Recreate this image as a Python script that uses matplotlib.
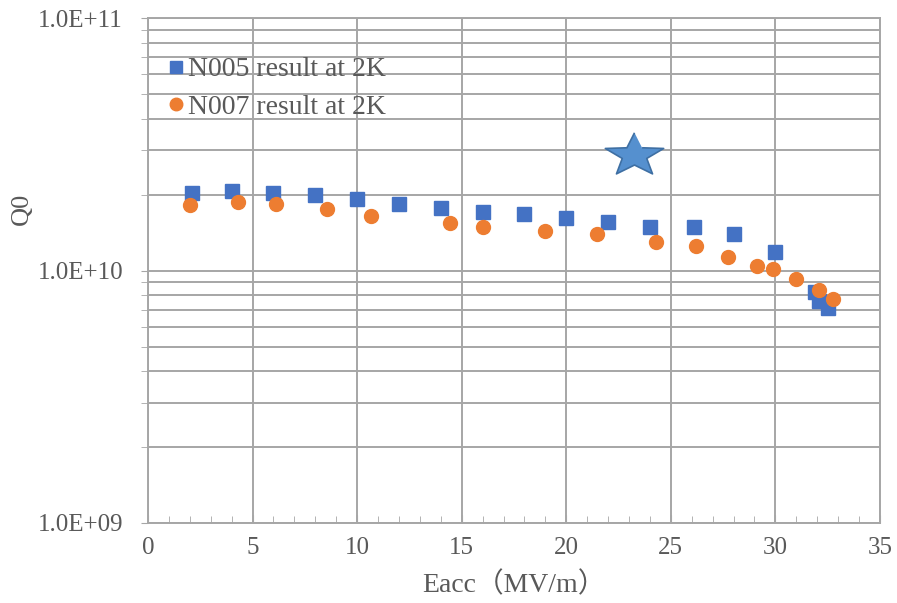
import matplotlib.pyplot as plt
import numpy as np
from matplotlib.ticker import LogLocator, MultipleLocator, FixedLocator, NullFormatter

# N005 result at 2K (blue squares)
n005_eacc = [2.1, 4.0, 6.0, 8.0, 10.0, 12.0, 14.0, 16.0, 18.0, 20.0, 22.0, 24.0, 26.1, 28.0, 30.0, 31.9, 32.1, 32.5]
n005_q0 = [2.02e10, 2.07e10, 2.03e10, 1.99e10, 1.92e10, 1.84e10, 1.77e10, 1.71e10, 1.67e10, 1.61e10,
           1.55e10, 1.49e10, 1.49e10, 1.40e10, 1.18e10, 8.2e9, 7.6e9, 7.1e9]

# N007 result at 2K (orange circles)
n007_eacc = [2.0, 4.3, 6.1, 8.55, 10.65, 14.45, 16.0, 19.0, 21.45, 24.3, 26.2, 27.75, 29.1, 29.9, 31.0, 32.1, 32.75]
n007_q0 = [1.81e10, 1.86e10, 1.83e10, 1.75e10, 1.65e10, 1.54e10, 1.49e10, 1.44e10, 1.40e10, 1.30e10,
           1.25e10, 1.13e10, 1.04e10, 1.01e10, 9.25e9, 8.37e9, 7.7e9]

# target star
star_eacc = [23.24]
star_q0 = [2.87e10]

x_ticks = [0, 5, 10, 15, 20, 25, 30, 35]

plt.rcParams['font.family'] = ['Liberation Serif', 'Noto Sans CJK SC']

# a wide five point star, like the one drawn in the original
ang = np.pi / 2 + np.arange(10) * np.pi / 5
rad = np.where(np.arange(10) % 2 == 0, 1.0, 0.42)
star_verts = np.column_stack([1.35 * rad * np.cos(ang), rad * np.sin(ang)])

fig = plt.figure(figsize=(8.97, 6.03), dpi=100)
ax = fig.add_axes([0.165, 0.1327, 0.816, 0.8373])

grid_col = '#a6a6a6'
text_col = '#595959'
ax.set_yscale('log')
ax.set_xlim(0, 35)
ax.set_ylim(1e9, 1e11)

ax.xaxis.set_major_locator(FixedLocator(x_ticks))
ax.xaxis.set_minor_locator(MultipleLocator(1))
ax.yaxis.set_major_locator(LogLocator(base=10))
ax.yaxis.set_minor_locator(LogLocator(base=10, subs=np.arange(2, 10)))
ax.yaxis.set_minor_formatter(NullFormatter())
ax.set_yticks([1e9, 1e10, 1e11], ['1.0E+09', '1.0E+10', '1.0E+11'])

ax.grid(True, which='major', axis='x', color=grid_col, linewidth=1.4)
ax.grid(True, which='both', axis='y', color=grid_col, linewidth=1.4)
ax.set_axisbelow(True)

for s in ax.spines.values():
    s.set_color(grid_col)
    s.set_linewidth(1.4)

ax.tick_params(axis='x', which='both', direction='in', color=grid_col, labelsize=18,
               labelcolor=text_col, pad=10)
ax.tick_params(axis='x', which='major', length=6)
ax.tick_params(axis='x', which='minor', length=5)
ax.tick_params(axis='y', which='both', direction='out', length=5, color=grid_col,
               labelsize=18, labelcolor=text_col, pad=13)

ax.plot(n005_eacc, n005_q0, 's', color='#4472C4', markersize=9.5, label='N005 result at 2K', zorder=3)
ax.plot(n007_eacc, n007_q0, 'o', color='#ED7D31', markersize=10, label='N007 result at 2K', zorder=3)
ax.plot(star_eacc, star_q0, marker=star_verts, linestyle='none', color='#5590CF',
        markeredgecolor='#3E6FA3', markeredgewidth=1.2, markersize=42, zorder=4)

ax.set_xlabel('Eacc（MV/m）', fontsize=20, color=text_col, va='center')
ax.xaxis.set_label_coords((514 - 148) / 732, -(585 - 523) / 505)
ax.set_ylabel('Q0', fontsize=19, color=text_col, va='center')
ax.yaxis.set_label_coords((22 - 148) / 732, (523 - 209) / 505)

ax.legend(loc='upper left', bbox_to_anchor=(0.008, 0.945), frameon=False, fontsize=20,
          handletextpad=0.03, handlelength=0.8, labelspacing=0.44, borderaxespad=0.0,
          labelcolor=text_col, markerscale=0.9)

fig.savefig('out.png', dpi=100)
